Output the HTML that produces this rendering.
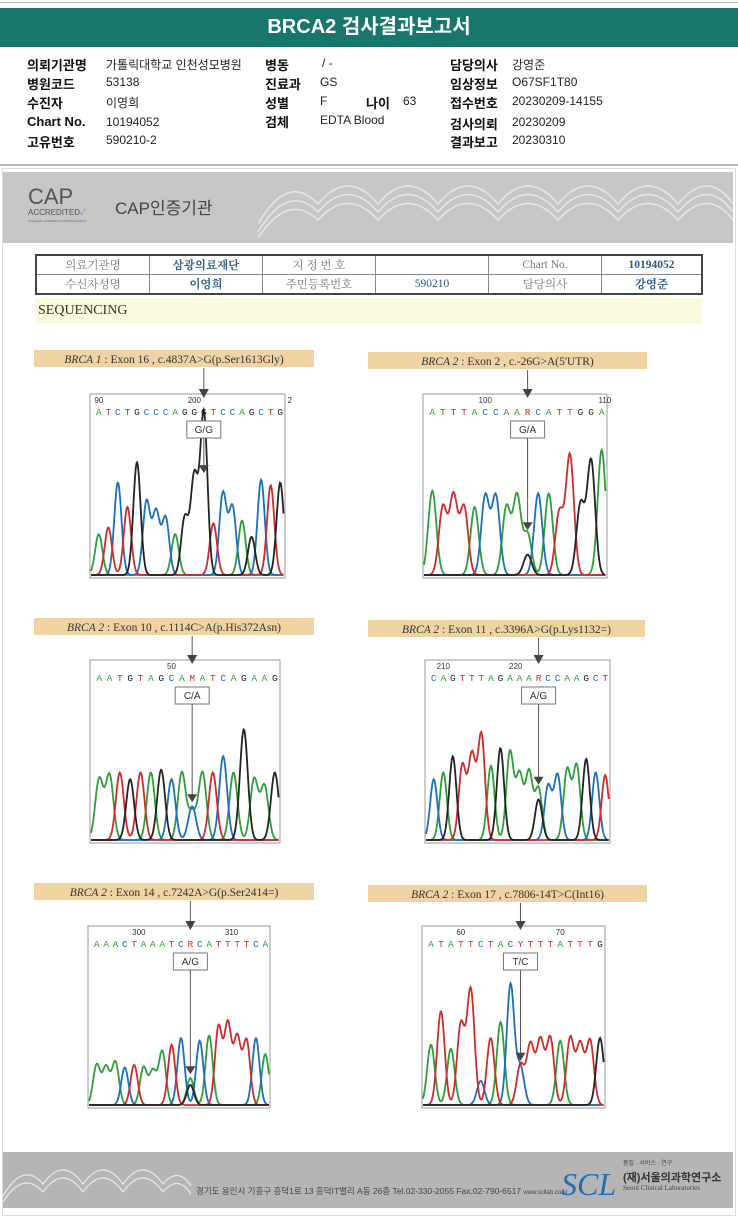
<!DOCTYPE html>
<html><head><meta charset="utf-8"><style>
body{margin:0;width:738px;height:1219px;background:#fff;font-family:"Liberation Sans","Noto Sans CJK KR",sans-serif;position:relative;overflow:hidden}
.a{position:absolute}
.lbl{font-weight:bold;font-size:13px;color:#111}
.val{font-size:12px;color:#222}
</style></head><body>
<div class="a" style="left:0;top:2px;width:738px;height:1px;background:#bbb"></div>
<div class="a" style="left:0;top:8px;width:738px;height:39px;background:#17776d;color:#fff;font-weight:bold;font-size:20px;text-align:center;line-height:39px">BRCA2 검사결과보고서</div>
<div>
<div class="a lbl" style="left:27px;top:55px">의뢰기관명</div><div class="a val" style="left:106px;top:56px">가톨릭대학교 인천성모병원</div>
<div class="a lbl" style="left:27px;top:74px">병원코드</div><div class="a val" style="left:106px;top:75px">53138</div>
<div class="a lbl" style="left:27px;top:93px">수진자</div><div class="a val" style="left:106px;top:94px">이영희</div>
<div class="a lbl" style="left:27px;top:114px">Chart No.</div><div class="a val" style="left:106px;top:115px">10194052</div>
<div class="a lbl" style="left:27px;top:132px">고유번호</div><div class="a val" style="left:106px;top:133px">590210-2</div>
<div class="a lbl" style="left:265px;top:55px">병동</div><div class="a val" style="left:322px;top:56px">/ -</div>
<div class="a lbl" style="left:265px;top:74px">진료과</div><div class="a val" style="left:320px;top:75px">GS</div>
<div class="a lbl" style="left:265px;top:93px">성별</div><div class="a val" style="left:320px;top:94px">F</div>
<div class="a lbl" style="left:366px;top:93px">나이</div><div class="a val" style="left:403px;top:94px">63</div>
<div class="a lbl" style="left:265px;top:112px">검체</div><div class="a val" style="left:320px;top:113px">EDTA Blood</div>
<div class="a lbl" style="left:450px;top:55px">담당의사</div><div class="a val" style="left:512px;top:56px">강영준</div>
<div class="a lbl" style="left:450px;top:74px">임상정보</div><div class="a val" style="left:512px;top:75px">O67SF1T80</div>
<div class="a lbl" style="left:450px;top:93px">접수번호</div><div class="a val" style="left:512px;top:94px">20230209-14155</div>
<div class="a lbl" style="left:450px;top:114px">검사의뢰</div><div class="a val" style="left:512px;top:115px">20230209</div>
<div class="a lbl" style="left:450px;top:132px">결과보고</div><div class="a val" style="left:512px;top:133px">20230310</div>
</div>
<div class="a" style="left:0;top:164px;width:738px;height:2px;background:#bbb"></div>
<div class="a" style="left:2px;top:168px;width:732px;height:1046px;border:1px solid #ddd;background:#fff"></div>
<div class="a" style="left:3px;top:172px;width:730px;height:71px;background:#c6c6c6">
 <div class="a" style="left:25px;top:12px;font-size:22px;color:#555">CAP</div>
 <div class="a" style="left:25px;top:35px;font-size:8px;color:#555">ACCREDITED<span style="color:#4a8fd0">✓</span></div>
 <div class="a" style="left:25px;top:47px;font-size:3px;color:#666">COLLEGE of AMERICAN PATHOLOGISTS</div>
 <div class="a" style="left:112px;top:22px;font-size:17px;color:#444">CAP인증기관</div>
 <svg class="a" style="left:255px;top:0" width="475" height="71"><g fill="none" stroke="#e6e6e6" stroke-width="1.5">
 <path d="M0 60 Q30 10 60 40 Q90 5 120 40 Q150 5 180 40 Q210 5 240 40 Q270 5 300 40 Q330 5 360 40 Q390 5 420 40 Q450 5 475 40"/>
 <path d="M0 66 Q30 20 60 48 Q90 15 120 48 Q150 15 180 48 Q210 15 240 48 Q270 15 300 48 Q330 15 360 48 Q390 15 420 48 Q450 15 475 48"/>
 <path d="M0 52 Q30 0 60 32 Q90 -4 120 32 Q150 -4 180 32 Q210 -4 240 32 Q270 -4 300 32 Q330 -4 360 32 Q390 -4 420 32 Q450 -4 475 32"/></g></svg>
</div>
<table class="a" style="left:35px;top:254px;width:668px;height:30px;border-collapse:collapse;border:2px solid #444;font-family:'Liberation Serif','Noto Serif CJK SC',serif;font-size:11.5px;color:#777;text-align:center">
<tr style="height:14px"><td style="border:1px solid #888;width:110px">의료기관명</td><td style="border:1px solid #888;width:110px;color:#2a5a80;font-weight:bold">삼광의료재단</td><td style="border:1px solid #888;width:110px">지 정 번 호</td><td style="border:1px solid #888;width:110px"></td><td rowspan="1" style="border:1px solid #888;width:110px">Chart No.</td><td style="border:1px solid #888;color:#2a5a80;font-weight:bold">10194052</td></tr>
<tr style="height:14px"><td style="border:1px solid #888">수신자성명</td><td style="border:1px solid #888;color:#2a5a80;font-weight:bold">이영희</td><td style="border:1px solid #888">주민등록번호</td><td style="border:1px solid #888;color:#2a5a80">590210</td><td style="border:1px solid #888">담당의사</td><td style="border:1px solid #888;color:#2a5a80;font-weight:bold">강영준</td></tr>
</table>
<div class="a" style="left:35px;top:298px;width:667px;height:26px;background:#fbf9dc;font-family:'Liberation Serif',serif;font-size:14px;color:#333;line-height:26px;padding-left:3px;box-sizing:border-box">SEQUENCING</div>
<svg id="chr" class="a" style="left:0;top:0" width="738" height="1219"></svg>
<div class="a" style="left:3px;top:1152px;width:730px;height:56px;background:#b5b5b5">
 <svg class="a" style="left:0;top:4px" width="190" height="46"><g fill="none" stroke="#e8e8e8" stroke-width="1.2"><path d="M0 40 Q20 5 40 28 Q60 0 80 28 Q100 0 120 28 Q140 0 160 28 Q175 10 188 30"/><path d="M0 46 Q20 14 40 36 Q60 8 80 36 Q100 8 120 36 Q140 8 160 36 Q175 18 188 38"/></g></svg>
 <div class="a" style="left:193px;top:33px;font-size:8.5px;color:#444;white-space:nowrap">경기도 용인시 기흥구 흥덕1로 13 흥덕IT밸리 A동 26층 Tel.02-330-2055 Fax.02-790-6517 <span style="font-size:6px">www.scllab.co.kr</span></div>
 <div class="a" style="left:558px;top:14px;font-family:'Liberation Serif',serif;font-style:italic;font-size:32px;color:#1f6fb8">SCL</div>
 <div class="a" style="left:620px;top:6px;font-size:6px;color:#444">품질 · 서비스 · 연구</div>
 <div class="a" style="left:620px;top:17px;font-size:11px;font-weight:bold;color:#333">(재)서울의과학연구소</div>
 <div class="a" style="left:620px;top:32px;font-size:7px;color:#444;font-family:'Liberation Serif',serif">Seoul Clinical Laboratories</div>
</div>
<script>
const titles=["BRCA 1 : Exon 16 , c.4837A>G(p.Ser1613Gly)","BRCA 2 : Exon 2 , c.-26G>A(5'UTR)","BRCA 2 : Exon 10 , c.1114C>A(p.His372Asn)","BRCA 2 : Exon 11 , c.3396A>G(p.Lys1132=)","BRCA 2 : Exon 14 , c.7242A>G(p.Ser2414=)","BRCA 2 : Exon 17 , c.7806-14T>C(Int16)"];
const genotypes=["G/G","G/A","C/A","A/G","A/G","T/C"];
const seqs=["ATCTGCCCAGGGTCCAGCTG","ATTTACCAARCATTGGA","AATGTAGCAMATCAGAAG","CAGTTTAGAAARCCAAGCT","AAACTAAATCRCATTTTCA","ATATTCTACYTTTATTTG"];
const heights=[
[.3,.35,.68,.5,.83,.54,.46,.42,.3,.42,.72,.47,.38,.6,.5,.4,.28,.7,.66,.68],
[.62,.5,.58,.5,.5,.58,.58,.5,.58,.3,.6,.6,.46,.88,.52,.84,.92],
[.45,.48,.5,.45,.5,.5,.52,.45,.5,.25,.5,.5,.62,.5,.82,.45,.4,.5],
[.45,.5,.62,.55,.62,.78,.55,.68,.65,.48,.5,.38,.4,.48,.52,.55,.6,.5,.48],
[.3,.28,.32,.28,.3,.28,.25,.4,.45,.5,.2,.48,.52,.58,.6,.5,.48,.5,.38],
[.45,.7,.42,.6,.86,.18,.5,.62,.9,.3,.45,.48,.5,.48,.5,.45,.48,.5]];
const hetIndex=[11,9,9,11,10,9];
const hetAlt=["G","G","A","G","G","C"];
const hetAltH=[.72,.15,.2,.3,.15,.28];
const tickLabels=[["90","200","2"],["100","110"],["50"],["210","220"],["300","310"],["60","70"]];
const tickIndex=[[0,10,20],[5,16.3],[7],[1,8.6],[4.5,14.4],[3,13]];
const boxes=[[90,394,195,184,34,350,280],[423,394,184,184,368,352,279],[90,660,190,183,34,618,280],[425,660,185,183,368,620,277],[88,926,182,182,34,883,280],[422,926,183,182,368,885,279]];
const col={A:"#2e9e3a",C:"#1b6fc0",G:"#222",T:"#d22a2a"};
const ns="http://www.w3.org/2000/svg",S=document.getElementById('chr');
function mk(t,a,p){const e=document.createElementNS(ns,t);for(const k in a)e.setAttribute(k,a[k]);(p||S).appendChild(e);return e;}
boxes.forEach((b,i)=>{
 const [x,y,w,h,lx,ly,lw]=b;const g=mk('g',{});
 
 
 const lb=mk('rect',{x:lx,y:ly,width:lw,height:17,fill:'#efd3a2'},g);
 const tt=mk('text',{x:lx+lw/2,y:ly+13,'text-anchor':'middle','font-size':'11.5','font-family':'Liberation Serif,serif',fill:'#333'},g);
 const p=titles[i].split(' : ');
 tt.innerHTML='<tspan font-style="italic">'+p[0]+'</tspan> : '+p[1];
 
 
 mk('rect',{x:x,y:y,width:w,height:h,fill:'#fff',stroke:'#999','stroke-width':1},g);
 const n=seqs[i].length,sp=(w-4)/n,px=k=>x+4+sp*(k+0.5);
 tickLabels[i].forEach((t,j)=>mk('text',{x:px(tickIndex[i][j]),y:y+9,'font-size':'8','text-anchor':'middle',fill:'#333'},g).textContent=t);
 const hx=px(hetIndex[i]);
 [...seqs[i]].forEach((c,k)=>mk('text',{x:px(k),y:y+21,'font-size':'9.5','text-anchor':'middle','font-family':'Liberation Mono,monospace',fill:col[c]||'#d22a2a'},g).textContent=c);
 const base=y+h-3,top=y+45,H=base-top;
 const peaks={A:[],C:[],G:[],T:[]};
 [...seqs[i]].forEach((c,k)=>{let cc=col[c]?c:({R:'A',M:'C',Y:'T'}[c]);peaks[cc].push([k,heights[i][k]]);});
 peaks[hetAlt[i]].push([hetIndex[i],hetAltH[i]]);
 const sg=sp*0.38;
 ['A','C','T','G'].forEach(c=>{let d='';for(let xx=x+1;xx<=x+w-1;xx+=0.7){let v=0;peaks[c].forEach(([k,hh])=>{const dx=xx-px(k);v+=hh*Math.exp(-dx*dx/(2*sg*sg));});d+=(d?'L':'M')+xx.toFixed(1)+' '+(base-v*H).toFixed(1);}
  const pl=mk('path',{d:d,fill:'none',stroke:col[c],'stroke-width':1.8},g);
  
  });
 mk('line',{x1:hx,y1:ly+18,x2:hx,y2:y+2,stroke:'#555'},g);
 mk('path',{d:`M${hx-5} ${y-5}L${hx+5} ${y-5}L${hx} ${y+4}Z`,fill:'#444'},g);
 const gb=mk('rect',{x:hx-17,y:y+27,width:34,height:17,fill:'#fff',stroke:'#777'},g);
 mk('text',{x:hx,y:y+39,'text-anchor':'middle','font-size':'10',fill:'#333'},g).textContent=genotypes[i];
 const pk=Math.max(...peaks[hetAlt[i]].filter(q=>q[0]==hetIndex[i]).map(q=>q[1]));
 const ty=base-Math.max(heights[i][hetIndex[i]],pk)*H-4;
 mk('line',{x1:hx,y1:y+44,x2:hx,y2:ty-6,stroke:'#555'},g);
 mk('path',{d:`M${hx-5} ${ty-8}L${hx+5} ${ty-8}L${hx} ${ty}Z`,fill:'#444'},g);
});
</script>
</body></html>
